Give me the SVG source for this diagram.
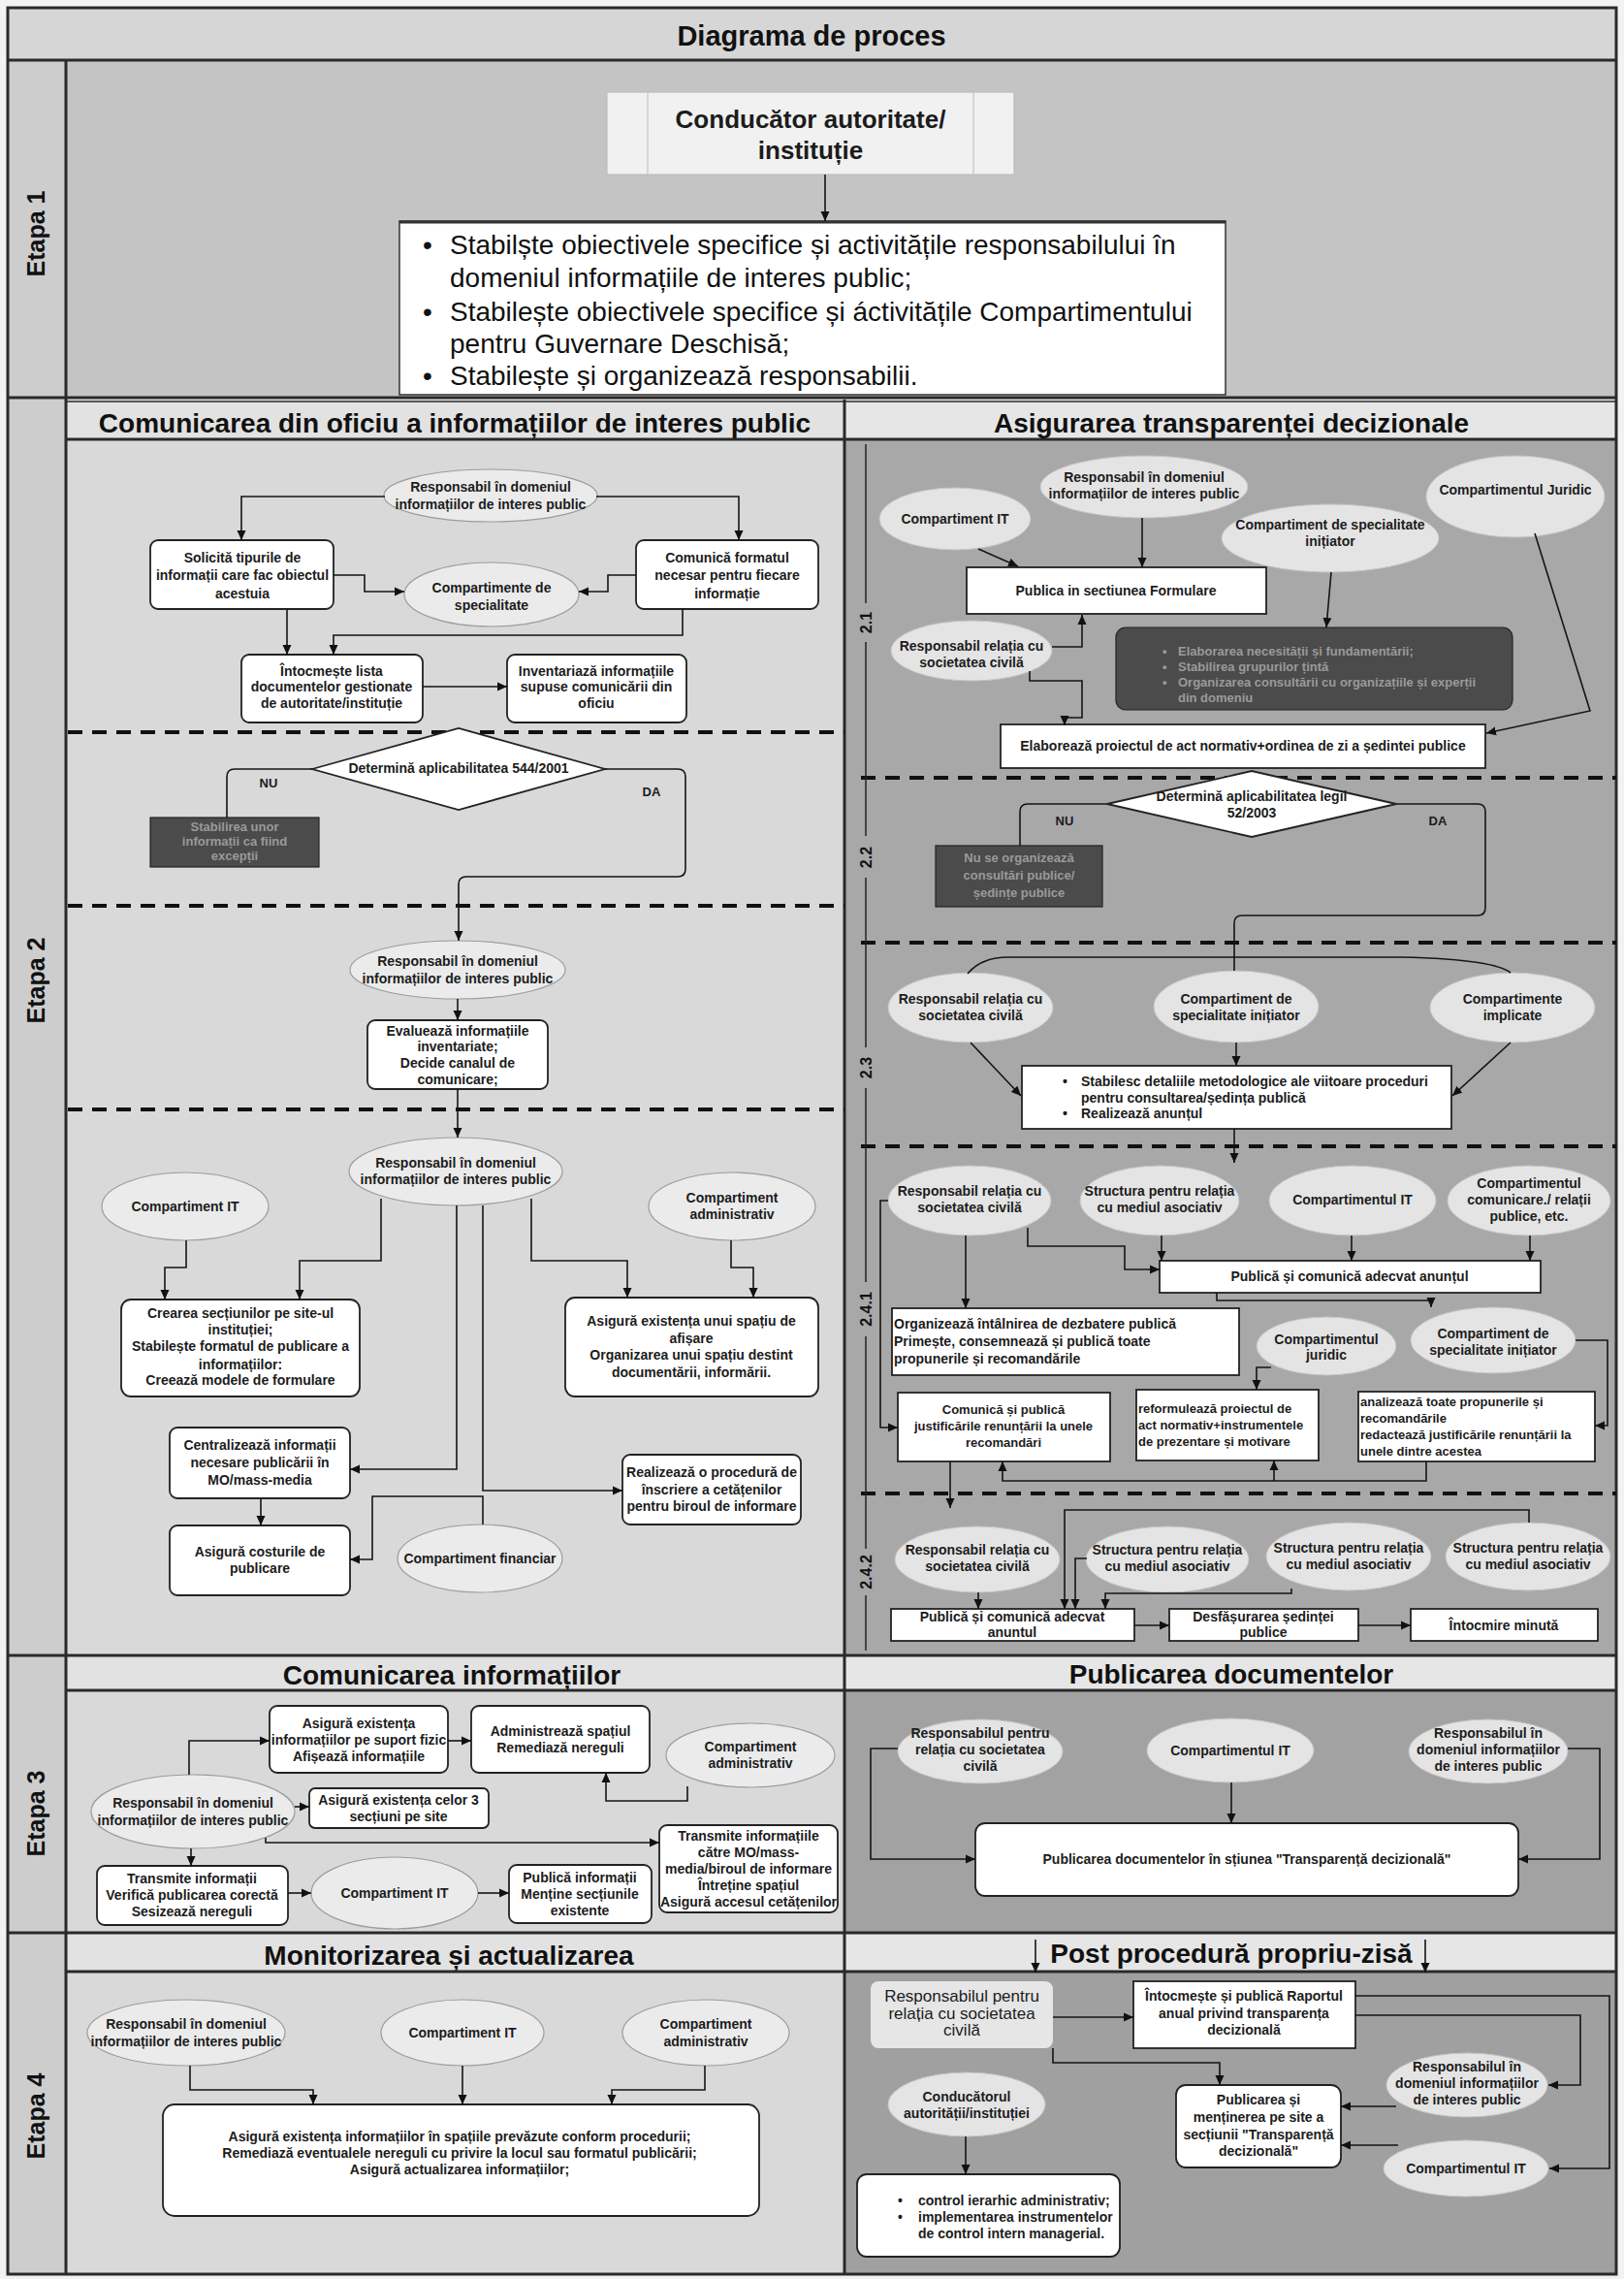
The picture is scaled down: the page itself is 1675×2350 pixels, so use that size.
<svg xmlns="http://www.w3.org/2000/svg" width="1675" height="2350" viewBox="0 0 1675 2350">
<defs>
<marker id="a" viewBox="0 0 10 10" refX="10" refY="5" markerWidth="10" markerHeight="10" markerUnits="userSpaceOnUse" orient="auto"><path d="M0,0.5L10,5L0,9.5z" fill="#111"/></marker>
<style>
text{font-family:"Liberation Sans",Arial,sans-serif}
.t{font-size:14px;font-weight:bold;fill:#1c1c1c;text-anchor:middle}
.tl{font-size:14px;font-weight:bold;fill:#1c1c1c;text-anchor:start}
.ts{font-size:13px;font-weight:bold;fill:#1c1c1c;text-anchor:middle}
.tsl{font-size:13px;font-weight:bold;fill:#1c1c1c;text-anchor:start}
.hd{font-size:28px;font-weight:bold;fill:#111;text-anchor:middle}
.et{font-size:25px;font-weight:bold;fill:#111;text-anchor:middle}
.sl{font-size:16px;font-weight:bold;fill:#111;text-anchor:middle}
.big{font-size:28px;fill:#111}
.rr{font-size:17px;fill:#1c1c1c;text-anchor:middle}
.dt{font-size:13px;font-weight:bold;fill:#9a9a9a}
.e{fill:#ebebeb;stroke:#9c9c9c;stroke-width:1.2}
.er{fill:#e4e4e4;stroke:#c4c4c4;stroke-width:1}
.b{fill:#fff;stroke:#222;stroke-width:1.8}
.d{fill:#4b4b4b;stroke:#222;stroke-width:1.2}
.c{fill:none;stroke:#151515;stroke-width:1.6}
.ca{marker-end:url(#a)}
.dash{stroke:#111;stroke-width:4;stroke-dasharray:15 10;fill:none}
.fr{fill:none;stroke:#2a2a2a;stroke-width:3}
.sub{stroke:#222;stroke-width:1.5}
</style>
</defs>
<g id="background">
<rect x="0" y="0" width="1675" height="2350" fill="#f2f2f2"/>
<rect x="8" y="8" width="1659" height="2337" fill="#cdcdcd"/>
<rect x="8" y="8" width="1659" height="54" fill="#d6d6d6"/>
<rect x="68" y="62" width="1599" height="348" fill="#c4c4c4"/>
<rect x="68" y="412" width="803" height="1295" fill="#d9d9d9"/>
<rect x="871" y="412" width="796" height="1295" fill="#a8a8a8"/>
<rect x="68" y="412" width="803" height="41" fill="#e2e2e2"/>
<rect x="871" y="412" width="796" height="41" fill="#e6e6e6"/>
<rect x="68" y="1707" width="803" height="286" fill="#d9d9d9"/>
<rect x="871" y="1707" width="796" height="286" fill="#a2a2a2"/>
<rect x="68" y="1707" width="803" height="36" fill="#e2e2e2"/>
<rect x="871" y="1707" width="796" height="36" fill="#e6e6e6"/>
<rect x="68" y="1993" width="803" height="352" fill="#d9d9d9"/>
<rect x="871" y="1993" width="796" height="352" fill="#a0a0a0"/>
<rect x="68" y="1993" width="803" height="40" fill="#e2e2e2"/>
<rect x="871" y="1993" width="796" height="40" fill="#e6e6e6"/>
<rect x="8" y="8" width="1659" height="2337" class="fr"/>
<path class="fr" d="M8,62H1667M8,410H1667M68,453H1667M8,1707H1667M68,1743H1667M8,1993H1667M68,2033H1667M68,62V2345M871,412V2345"/>
<path class="fr" d="M68,414H1667" style="stroke-width:1.5"/>
<text x="837" y="47" class="hd" style="font-size:29px">Diagrama de proces</text>
<text class="et" transform="translate(46,241) rotate(-90)">Etapa 1</text>
<text class="et" transform="translate(46,1011) rotate(-90)">Etapa 2</text>
<text class="et" transform="translate(46,1870) rotate(-90)">Etapa 3</text>
<text class="et" transform="translate(46,2182) rotate(-90)">Etapa 4</text>
<text x="469" y="446" class="hd">Comunicarea din oficiu a informațiilor de interes public</text>
<text x="1270" y="446" class="hd">Asigurarea transparenței decizionale</text>
<text x="466" y="1737" class="hd">Comunicarea informațiilor</text>
<text x="1270" y="1736" class="hd">Publicarea documentelor</text>
<text x="463" y="2026" class="hd">Monitorizarea și actualizarea</text>
<text x="1270" y="2024" class="hd">Post procedură propriu-zisă</text>
<path class="dash" d="M70,755H871M70,934H871M70,1144H871"/>
<path class="dash" d="M888,802H1667M888,972H1667M888,1182H1667M888,1540H1667"/>
<path class="sub" d="M893,458V622M893,662V862M893,905V1080M893,1122V1322M893,1378V1597M893,1645V1702"/>
<text class="sl" transform="translate(899,642) rotate(-90)">2.1</text>
<text class="sl" transform="translate(899,884) rotate(-90)">2.2</text>
<text class="sl" transform="translate(899,1101) rotate(-90)">2.3</text>
<text class="sl" transform="translate(899,1350) rotate(-90)">2.4.1</text>
<text class="sl" transform="translate(899,1621) rotate(-90)">2.4.2</text>
</g>
<g id="n-conducator">
<rect x="626" y="95" width="420" height="85" fill="#f1f1f1" stroke="#bdbdbd" stroke-width="1.2"/>
<path d="M668,95V180M1004,95V180" stroke="#c4c4c4" stroke-width="1.2"/>
<text x="836" y="132" class="t" style="font-size:26px">Conducător autoritate/</text>
<text x="836" y="164" class="t" style="font-size:26px">instituție</text>
</g>
<g id="n-stabileste">
<rect x="412" y="228" width="852" height="179" fill="#fff" stroke="#333" stroke-width="1.5"/>
<path d="M412,229H1264" stroke="#333" stroke-width="3"/>
<text class="big" x="436" y="262">•</text><text class="big" x="464" y="262">Stabilște obiectivele specifice și activitățile responsabilului în</text>
<text class="big" x="464" y="296">domeniul informațiile de interes  public;</text>
<text class="big" x="436" y="331">•</text><text class="big" x="464" y="331">Stabilește obiectivele specifice și áctivitățile Compartimentului</text>
<text class="big" x="464" y="364">pentru Guvernare Deschisă;</text>
<text class="big" x="436" y="397">•</text><text class="big" x="464" y="397">Stabilește și organizează responsabilii.</text>
</g>
<g id="n-l-resp1"><ellipse cx="506" cy="511" rx="110" ry="27" class="e"/>
<text x="506" y="507" class="t">Responsabil în domeniul</text><text x="506" y="525" class="t">informațiilor de interes public</text></g>
<g id="n-l-solicita"><rect x="155" y="557" width="189" height="71" rx="8" class="b"/>
<text x="250" y="580" class="t">Solicită  tipurile de</text><text x="250" y="598" class="t">informații care fac obiectul</text><text x="250" y="617" class="t">acestuia</text></g>
<g id="n-l-comunica"><rect x="656" y="557" width="188" height="71" rx="8" class="b"/>
<text x="750" y="580" class="t">Comunică formatul</text><text x="750" y="598" class="t">necesar pentru fiecare</text><text x="750" y="617" class="t">informație</text></g>
<g id="n-l-compspec"><ellipse cx="507" cy="613" rx="90" ry="33" class="e"/>
<text x="507" y="611" class="t">Compartimente de</text><text x="507" y="629" class="t">specialitate</text></g>
<g id="n-l-intocmeste"><rect x="249" y="675" width="187" height="70" rx="8" class="b"/>
<text x="342" y="697" class="t">Întocmește lista</text><text x="342" y="713" class="t">documentelor gestionate</text><text x="342" y="730" class="t">de autoritate/instituție</text></g>
<g id="n-l-inventariaza"><rect x="523" y="675" width="185" height="70" rx="8" class="b"/>
<text x="615" y="697" class="t">Inventariază informațiile</text><text x="615" y="713" class="t">supuse comunicării din</text><text x="615" y="730" class="t">oficiu</text></g>
<g id="n-l-decizie"><polygon points="322,793 473,751 624,793 473,835" fill="#fff" stroke="#222" stroke-width="1.8"/>
<text x="473" y="797" class="t">Determină aplicabilitatea  544/2001</text></g>
<g id="n-l-exceptii"><rect x="155" y="843" width="174" height="51" class="d"/>
<text x="242" y="857" class="dt" text-anchor="middle">Stabilirea unor</text><text x="242" y="872" class="dt" text-anchor="middle">informații ca fiind</text><text x="242" y="887" class="dt" text-anchor="middle">excepții</text></g>
<g id="n-l-resp2"><ellipse cx="472" cy="1000" rx="111" ry="30" class="e"/>
<text x="472" y="996" class="t">Responsabil în domeniul</text><text x="472" y="1014" class="t">informațiilor de interes public</text></g>
<g id="n-l-evalueaza"><rect x="379" y="1052" width="186" height="71" rx="8" class="b"/>
<text x="472" y="1068" class="t">Evaluează informațiile</text><text x="472" y="1084" class="t">inventariate;</text><text x="472" y="1101" class="t">Decide canalul de</text><text x="472" y="1118" class="t">comunicare;</text></g>
<g id="n-l-resp3"><ellipse cx="470" cy="1208" rx="110" ry="35" class="e"/>
<text x="470" y="1204" class="t">Responsabil în domeniul</text><text x="470" y="1221" class="t">informațiilor de interes public</text></g>
<g id="n-l-it"><ellipse cx="191" cy="1244" rx="86" ry="35" class="e"/>
<text x="191" y="1249" class="t">Compartiment IT</text></g>
<g id="n-l-admin"><ellipse cx="755" cy="1244" rx="86" ry="35" class="e"/>
<text x="755" y="1240" class="t">Compartiment</text><text x="755" y="1257" class="t">administrativ</text></g>
<g id="n-l-crearea"><rect x="125" y="1340" width="246" height="100" rx="10" class="b"/>
<text x="248" y="1359" class="t">Crearea secțiunilor pe site-ul</text><text x="248" y="1376" class="t">instituției;</text><text x="248" y="1393" class="t">Stabilește formatul de publicare a</text><text x="248" y="1412" class="t">informațiilor:</text><text x="248" y="1428" class="t">Creează modele de formulare</text></g>
<g id="n-l-spatiu"><rect x="583" y="1338" width="261" height="102" rx="10" class="b"/>
<text x="713" y="1367" class="t">Asigură existența unui spațiu de</text><text x="713" y="1385" class="t">afișare</text><text x="713" y="1402" class="t">Organizarea unui spațiu destint</text><text x="713" y="1420" class="t">documentării, informării.</text></g>
<g id="n-l-centralizeaza"><rect x="175" y="1472" width="186" height="73" rx="8" class="b"/>
<text x="268" y="1495" class="t">Centralizează informații</text><text x="268" y="1513" class="t">necesare publicării în</text><text x="268" y="1531" class="t">MO/mass-media</text></g>
<g id="n-l-realizeaza"><rect x="642" y="1500" width="184" height="72" rx="8" class="b"/>
<text x="734" y="1523" class="t">Realizează o procedură de</text><text x="734" y="1541" class="t">înscriere a cetățenilor</text><text x="734" y="1558" class="t">pentru biroul de informare</text></g>
<g id="n-l-costuri"><rect x="175" y="1573" width="186" height="72" rx="8" class="b"/>
<text x="268" y="1605" class="t">Asigură costurile de</text><text x="268" y="1622" class="t">publicare</text></g>
<g id="n-l-financiar"><ellipse cx="495" cy="1607" rx="85" ry="35" class="e"/>
<text x="495" y="1612" class="t">Compartiment financiar</text></g>
<g id="n-r-it"><ellipse cx="985" cy="535" rx="78" ry="32" class="er"/>
<text x="985" y="540" class="t">Compartiment IT</text></g>
<g id="n-r-resp"><ellipse cx="1180" cy="502" rx="107" ry="32" class="er"/>
<text x="1180" y="497" class="t">Responsabil în domeniul</text><text x="1180" y="514" class="t">informațiilor de interes public</text></g>
<g id="n-r-spec"><ellipse cx="1372" cy="555" rx="112" ry="35" class="er"/>
<text x="1372" y="546" class="t">Compartiment de specialitate</text><text x="1372" y="563" class="t">inițiator</text></g>
<g id="n-r-juridic"><ellipse cx="1563" cy="512" rx="92" ry="42" class="er"/>
<text x="1563" y="510" class="t">Compartimentul Juridic</text></g>
<g id="n-r-formulare"><rect x="997" y="585" width="309" height="48" class="b"/>
<text x="1151" y="614" class="t">Publica in sectiunea Formulare</text></g>
<g id="n-r-relatia1"><ellipse cx="1002" cy="671" rx="83" ry="31" class="er"/>
<text x="1002" y="671" class="t">Responsabil relația cu</text><text x="1002" y="688" class="t">societatea civilă</text></g>
<g id="n-r-elaborarea"><rect x="1151" y="647" width="409" height="85" rx="10" class="d"/>
<text x="1199" y="676" class="dt">•</text><text x="1215" y="676" class="dt">Elaborarea necesității și fundamentării;</text>
<text x="1199" y="692" class="dt">•</text><text x="1215" y="692" class="dt">Stabilirea grupurilor țintă</text>
<text x="1199" y="708" class="dt">•</text><text x="1215" y="708" class="dt">Organizarea consultării cu organizațiile și experții</text>
<text x="1215" y="724" class="dt">din domeniu</text></g>
<g id="n-r-proiect"><rect x="1032" y="747" width="500" height="45" class="b"/>
<text x="1282" y="774" class="t">Elaborează  proiectul de act normativ+ordinea de zi a ședintei publice</text></g>
<g id="n-r-decizie"><polygon points="1142,829 1291,795 1440,829 1291,863" fill="#fff" stroke="#222" stroke-width="1.8"/>
<text x="1291" y="826" class="t">Determină aplicabilitatea legii</text><text x="1291" y="843" class="t">52/2003</text></g>
<g id="n-r-nuconsult"><rect x="965" y="872" width="172" height="63" class="d"/>
<text x="1051" y="889" class="dt" text-anchor="middle">Nu se organizează</text><text x="1051" y="907" class="dt" text-anchor="middle">consultări publice/</text><text x="1051" y="925" class="dt" text-anchor="middle">ședințe publice</text></g>
<g id="n-r-relatia2"><ellipse cx="1001" cy="1039" rx="85" ry="36" class="er"/>
<text x="1001" y="1035" class="t">Responsabil relația cu</text><text x="1001" y="1052" class="t">societatea civilă</text></g>
<g id="n-r-spec2"><ellipse cx="1275" cy="1038" rx="85" ry="37" class="er"/>
<text x="1275" y="1035" class="t">Compartiment de</text><text x="1275" y="1052" class="t">specialitate inițiator</text></g>
<g id="n-r-implicate"><ellipse cx="1560" cy="1039" rx="85" ry="36" class="er"/>
<text x="1560" y="1035" class="t">Compartimente</text><text x="1560" y="1052" class="t">implicate</text></g>
<g id="n-r-stabilesc"><rect x="1054" y="1099" width="443" height="65" class="b"/>
<text x="1096" y="1120" class="tl">•</text><text x="1115" y="1120" class="tl">Stabilesc detaliile metodologice ale viitoare proceduri</text>
<text x="1115" y="1137" class="tl">pentru consultarea/ședința publică</text>
<text x="1096" y="1153" class="tl">•</text><text x="1115" y="1153" class="tl">Realizează anunțul</text></g>
<g id="n-r-relatia3"><ellipse cx="1000" cy="1238" rx="84" ry="36" class="er"/>
<text x="1000" y="1233" class="t">Responsabil relația cu</text><text x="1000" y="1250" class="t">societatea civilă</text></g>
<g id="n-r-structura1"><ellipse cx="1196" cy="1238" rx="82" ry="36" class="er"/>
<text x="1196" y="1233" class="t">Structura pentru relația</text><text x="1196" y="1250" class="t">cu mediul asociativ</text></g>
<g id="n-r-it2"><ellipse cx="1395" cy="1238" rx="86" ry="36" class="er"/>
<text x="1395" y="1242" class="t">Compartimentul IT</text></g>
<g id="n-r-comunicare"><ellipse cx="1577" cy="1238" rx="84" ry="36" class="er"/>
<text x="1577" y="1225" class="t">Compartimentul</text><text x="1577" y="1242" class="t">comunicare./ relații</text><text x="1577" y="1259" class="t">publice, etc.</text></g>
<g id="n-r-publica1"><rect x="1196" y="1300" width="393" height="33" class="b"/>
<text x="1392" y="1321" class="t">Publică și comunică adecvat anunțul</text></g>
<g id="n-r-organizeaza"><rect x="920" y="1349" width="358" height="69" class="b"/>
<text x="922" y="1370" class="tl">Organizează întâlnirea de dezbatere publică</text>
<text x="922" y="1388" class="tl">Primește, consemnează și publică toate</text>
<text x="922" y="1406" class="tl">propunerile și recomandările</text></g>
<g id="n-r-juridic2"><ellipse cx="1368" cy="1388" rx="72" ry="30" class="er"/>
<text x="1368" y="1386" class="t">Compartimentul</text><text x="1368" y="1402" class="t">juridic</text></g>
<g id="n-r-spec3"><ellipse cx="1540" cy="1382" rx="85" ry="34" class="er"/>
<text x="1540" y="1380" class="t">Compartiment de</text><text x="1540" y="1397" class="t">specialitate inițiator</text></g>
<g id="n-r-justificari"><rect x="926" y="1436" width="219" height="71" class="b"/>
<text x="1035" y="1458" class="ts">Comunică și publică</text><text x="1035" y="1475" class="ts">justificările renunțării la unele</text><text x="1035" y="1492" class="ts">recomandări</text></g>
<g id="n-r-reformuleaza"><rect x="1172" y="1433" width="188" height="73" class="b"/>
<text x="1174" y="1457" class="tsl">reformulează proiectul de</text><text x="1174" y="1474" class="tsl">act normativ+instrumentele</text><text x="1174" y="1491" class="tsl">de prezentare și motivare</text></g>
<g id="n-r-analizeaza"><rect x="1401" y="1435" width="244" height="72" class="b"/>
<text x="1403" y="1450" class="tsl">analizează toate propunerile și</text><text x="1403" y="1467" class="tsl">recomandările</text><text x="1403" y="1484" class="tsl">redactează justificările renunțării la</text><text x="1403" y="1501" class="tsl">unele dintre acestea</text></g>
<g id="n-r-relatia4"><ellipse cx="1008" cy="1608" rx="85" ry="34" class="er"/>
<text x="1008" y="1603" class="t">Responsabil relația cu</text><text x="1008" y="1620" class="t">societatea civilă</text></g>
<g id="n-r-structura2"><ellipse cx="1204" cy="1608" rx="84" ry="34" class="er"/>
<text x="1204" y="1603" class="t">Structura pentru relația</text><text x="1204" y="1620" class="t">cu mediul asociativ</text></g>
<g id="n-r-structura3"><ellipse cx="1391" cy="1605" rx="85" ry="35" class="er"/>
<text x="1391" y="1601" class="t">Structura pentru relația</text><text x="1391" y="1618" class="t">cu mediul asociativ</text></g>
<g id="n-r-structura4"><ellipse cx="1576" cy="1605" rx="85" ry="35" class="er"/>
<text x="1576" y="1601" class="t">Structura pentru relația</text><text x="1576" y="1618" class="t">cu mediul asociativ</text></g>
<g id="n-r-publica2"><rect x="919" y="1659" width="251" height="33" class="b"/>
<text x="1044" y="1672" class="t">Publică și comunică adecvat</text><text x="1044" y="1688" class="t">anuntul</text></g>
<g id="n-r-desfasurare"><rect x="1206" y="1659" width="195" height="33" class="b"/>
<text x="1303" y="1672" class="t">Desfășurarea ședinței</text><text x="1303" y="1688" class="t">publice</text></g>
<g id="n-r-minuta"><rect x="1455" y="1659" width="193" height="33" class="b"/>
<text x="1551" y="1681" class="t">Întocmire minută</text></g>
<g id="n-3-fizic"><rect x="278" y="1759" width="184" height="69" rx="8" class="b"/>
<text x="370" y="1782" class="t">Asigură existența</text><text x="370" y="1799" class="t">informațiilor pe suport fizic</text><text x="370" y="1816" class="t">Afișează informațiile</text></g>
<g id="n-3-administreaza"><rect x="486" y="1759" width="184" height="69" rx="8" class="b"/>
<text x="578" y="1790" class="t">Administrează spațiul</text><text x="578" y="1807" class="t">Remediază nereguli</text></g>
<g id="n-3-admin"><ellipse cx="774" cy="1810" rx="87" ry="33" class="e"/>
<text x="774" y="1806" class="t">Compartiment</text><text x="774" y="1823" class="t">administrativ</text></g>
<g id="n-3-resp"><ellipse cx="199" cy="1868" rx="105" ry="38" class="e"/>
<text x="199" y="1864" class="t">Responsabil în domeniul</text><text x="199" y="1882" class="t">informațiilor de interes public</text></g>
<g id="n-3-sectiuni"><rect x="319" y="1844" width="185" height="41" rx="6" class="b"/>
<text x="411" y="1861" class="t">Asigură existența celor 3</text><text x="411" y="1878" class="t">secțiuni pe site</text></g>
<g id="n-3-transmiteMO"><rect x="680" y="1882" width="184" height="90" rx="8" class="b"/>
<text x="772" y="1898" class="t">Transmite informațiile</text><text x="772" y="1915" class="t">către MO/mass-</text><text x="772" y="1932" class="t">media/biroul de informare</text><text x="772" y="1949" class="t">Întreține spațiul</text><text x="772" y="1966" class="t">Asigură accesul cetățenilor</text></g>
<g id="n-3-transmite"><rect x="100" y="1924" width="197" height="61" rx="8" class="b"/>
<text x="198" y="1942" class="t">Transmite informații</text><text x="198" y="1959" class="t">Verifică publicarea corectă</text><text x="198" y="1976" class="t">Sesizează nereguli</text></g>
<g id="n-3-it"><ellipse cx="407" cy="1952" rx="86" ry="37" class="e"/>
<text x="407" y="1957" class="t">Compartiment IT</text></g>
<g id="n-3-publica"><rect x="525" y="1923" width="147" height="60" rx="8" class="b"/>
<text x="598" y="1941" class="t">Publică informații</text><text x="598" y="1958" class="t">Menține secțiunile</text><text x="598" y="1975" class="t">existente</text></g>
<g id="n-3r-relatia"><ellipse cx="1011" cy="1806" rx="85" ry="33" class="er"/>
<text x="1011" y="1792" class="t">Responsabilul pentru</text><text x="1011" y="1809" class="t">relația cu societatea</text><text x="1011" y="1826" class="t">civilă</text></g>
<g id="n-3r-it"><ellipse cx="1269" cy="1805" rx="86" ry="33" class="er"/>
<text x="1269" y="1810" class="t">Compartimentul IT</text></g>
<g id="n-3r-resp"><ellipse cx="1535" cy="1806" rx="82" ry="33" class="er"/>
<text x="1535" y="1792" class="t">Responsabilul în</text><text x="1535" y="1809" class="t">domeniul informațiilor</text><text x="1535" y="1826" class="t">de interes public</text></g>
<g id="n-3r-publicare"><rect x="1006" y="1880" width="560" height="75" rx="10" class="b"/>
<text x="1286" y="1922" class="t">Publicarea documentelor în sțiunea "Transparență decizională"</text></g>
<g id="n-4-resp"><ellipse cx="192" cy="2096" rx="102" ry="34" class="e"/>
<text x="192" y="2092" class="t">Responsabil în domeniul</text><text x="192" y="2110" class="t">informațiilor de interes public</text></g>
<g id="n-4-it"><ellipse cx="477" cy="2096" rx="84" ry="34" class="e"/>
<text x="477" y="2101" class="t">Compartiment IT</text></g>
<g id="n-4-admin"><ellipse cx="728" cy="2096" rx="86" ry="34" class="e"/>
<text x="728" y="2092" class="t">Compartiment</text><text x="728" y="2110" class="t">administrativ</text></g>
<g id="n-4-asigura"><rect x="168" y="2170" width="615" height="115" rx="12" class="b"/>
<text x="474" y="2208" class="t">Asigură existența informațiilor în spațiile prevăzute conform procedurii;</text>
<text x="474" y="2225" class="t">Remediază eventualele nereguli cu privire la locul sau formatul publicării;</text>
<text x="474" y="2242" class="t">Asigură actualizarea informațiilor;</text></g>
<g id="n-4r-relatia"><rect x="898" y="2043" width="188" height="69" rx="8" fill="#e6e6e6"/>
<text x="992" y="2064" class="rr">Responsabilul pentru</text><text x="992" y="2082" class="rr">relația cu societatea</text><text x="992" y="2099" class="rr">civilă</text></g>
<g id="n-4r-raport"><rect x="1169" y="2043" width="229" height="69" class="b"/>
<text x="1283" y="2063" class="t">Întocmește și publică Raportul</text><text x="1283" y="2081" class="t">anual privind transparența</text><text x="1283" y="2098" class="t">decizională</text></g>
<g id="n-4r-mentinere"><rect x="1213" y="2150" width="170" height="85" rx="10" class="b"/>
<text x="1298" y="2170" class="t">Publicarea și</text><text x="1298" y="2188" class="t">menținerea pe site a</text><text x="1298" y="2206" class="t">secțiunii "Transparență</text><text x="1298" y="2223" class="t">decizională"</text></g>
<g id="n-4r-resp"><ellipse cx="1513" cy="2150" rx="83" ry="33" class="er"/>
<text x="1513" y="2136" class="t">Responsabilul în</text><text x="1513" y="2153" class="t">domeniul informațiilor</text><text x="1513" y="2170" class="t">de interes public</text></g>
<g id="n-4r-it"><ellipse cx="1512" cy="2236" rx="85" ry="29" class="er"/>
<text x="1512" y="2241" class="t">Compartimentul IT</text></g>
<g id="n-4r-conducator"><ellipse cx="997" cy="2170" rx="81" ry="33" class="er"/>
<text x="997" y="2167" class="t">Conducătorul</text><text x="997" y="2184" class="t">autorității/instituției</text></g>
<g id="n-4r-control"><rect x="884" y="2242" width="271" height="85" rx="10" class="b"/>
<text x="926" y="2274" class="tl">•</text><text x="947" y="2274" class="tl">control ierarhic administrativ;</text>
<text x="926" y="2291" class="tl">•</text><text x="947" y="2291" class="tl">implementarea instrumentelor</text>
<text x="947" y="2308" class="tl">de control intern managerial.</text></g>
<g id="connectors">
<path class="c ca" d="M851,180V228"/>
<path class="c ca" d="M397,512H249V557"/>
<path class="c ca" d="M615,512H762V557"/>
<path class="c ca" d="M344,593H376V610H417"/>
<path class="c ca" d="M656,593H627V610H597"/>
<path class="c ca" d="M296,628V675"/>
<path class="c ca" d="M704,628V655H344V675"/>
<path class="c ca" d="M436,708H523"/>
<path class="c" d="M322,793H242Q234,793 234,801V843"/>
<path class="c ca" d="M624,793H699Q707,793 707,801V896Q707,904 699,904H481Q473,904 473,912V970"/>
<text x="277" y="812" class="ts">NU</text>
<text x="672" y="821" class="ts">DA</text>
<path class="c ca" d="M472,1030V1052"/>
<path class="c ca" d="M472,1123V1173"/>
<path class="c ca" d="M393,1236V1300H309V1340"/>
<path class="c ca" d="M471,1243V1515H361"/>
<path class="c ca" d="M498,1243V1537H642"/>
<path class="c ca" d="M548,1236V1300H647V1338"/>
<path class="c ca" d="M192,1279V1307H170V1340"/>
<path class="c ca" d="M754,1279V1307H777V1338"/>
<path class="c ca" d="M269,1545V1573"/>
<path class="c ca" d="M498,1572V1543H384V1608H361"/>
<path class="c ca" d="M1009,566L1050,584"/>
<path class="c ca" d="M1178,534V585"/>
<path class="c ca" d="M1085,667H1116V634"/>
<path class="c ca" d="M1062,692V702H1116V740H1098V748"/>
<path class="c ca" d="M1373,590L1368,647"/>
<path class="c ca" d="M1583,550L1640,733L1533,756"/>
<path class="c" d="M1142,829H1060Q1052,829 1052,837V872"/>
<path class="c" d="M1440,829H1524Q1532,829 1532,837V936Q1532,944 1524,944H1281Q1273,944 1273,952V1001"/>
<text x="1098" y="851" class="ts">NU</text>
<text x="1483" y="851" class="ts">DA</text>
<path class="c" d="M998,1004Q1012,987 1040,987H1445Q1540,989 1558,1003"/>
<path class="c ca" d="M1001,1075L1053,1130"/>
<path class="c ca" d="M1275,1075V1099"/>
<path class="c ca" d="M1558,1075L1498,1130"/>
<path class="c ca" d="M1273,1164V1199"/>
<path class="c ca" d="M1060,1266V1285H1160V1309H1196"/>
<path class="c ca" d="M1198,1274V1300"/>
<path class="c ca" d="M1394,1274V1300"/>
<path class="c ca" d="M1578,1274V1300"/>
<path class="c ca" d="M996,1274V1349"/>
<path class="c ca" d="M916,1238H908V1472H926"/>
<path class="c ca" d="M1255,1333V1341H1476V1348"/>
<path class="c ca" d="M1625,1382H1658V1470H1645"/>
<path class="c ca" d="M1311,1410H1296V1433"/>
<path class="c ca" d="M1471,1507V1527H1034V1507"/>
<path class="c ca" d="M1314,1527V1506"/>
<path class="c ca" d="M980,1507V1555"/>
<path class="c ca" d="M1009,1642V1659"/>
<path class="c ca" d="M1577,1570V1557H1098V1659"/>
<path class="c ca" d="M1121,1607H1109V1659"/>
<path class="c ca" d="M1332,1638V1643H1140V1659"/>
<path class="c ca" d="M1170,1676H1206"/>
<path class="c ca" d="M1401,1676H1455"/>
<path class="c ca" d="M195,1830V1795H278"/>
<path class="c ca" d="M462,1795H486"/>
<path class="c ca" d="M709,1842V1857H625V1828"/>
<path class="c ca" d="M304,1863H319"/>
<path class="c ca" d="M274,1895V1900H680"/>
<path class="c ca" d="M197,1906V1924"/>
<path class="c ca" d="M297,1952H321"/>
<path class="c ca" d="M493,1952H525"/>
<path class="c ca" d="M926,1803H898V1917H1006"/>
<path class="c ca" d="M1270,1838V1880"/>
<path class="c ca" d="M1617,1803H1650V1917H1566"/>
<path class="c ca" d="M1068,2000V2034"/>
<path class="c ca" d="M1470,2000V2034"/>
<path class="c ca" d="M196,2130V2155H323V2170"/>
<path class="c ca" d="M477,2130V2170"/>
<path class="c ca" d="M727,2130V2155H631V2170"/>
<path class="c ca" d="M1086,2080H1169"/>
<path class="c ca" d="M1086,2112V2127H1258V2150"/>
<path class="c ca" d="M1398,2058H1660V2236H1598"/>
<path class="c ca" d="M1398,2078H1630V2150H1597"/>
<path class="c ca" d="M1440,2172H1383"/>
<path class="c ca" d="M1442,2212H1383"/>
<path class="c ca" d="M996,2203V2242"/>
</g>
</svg>
